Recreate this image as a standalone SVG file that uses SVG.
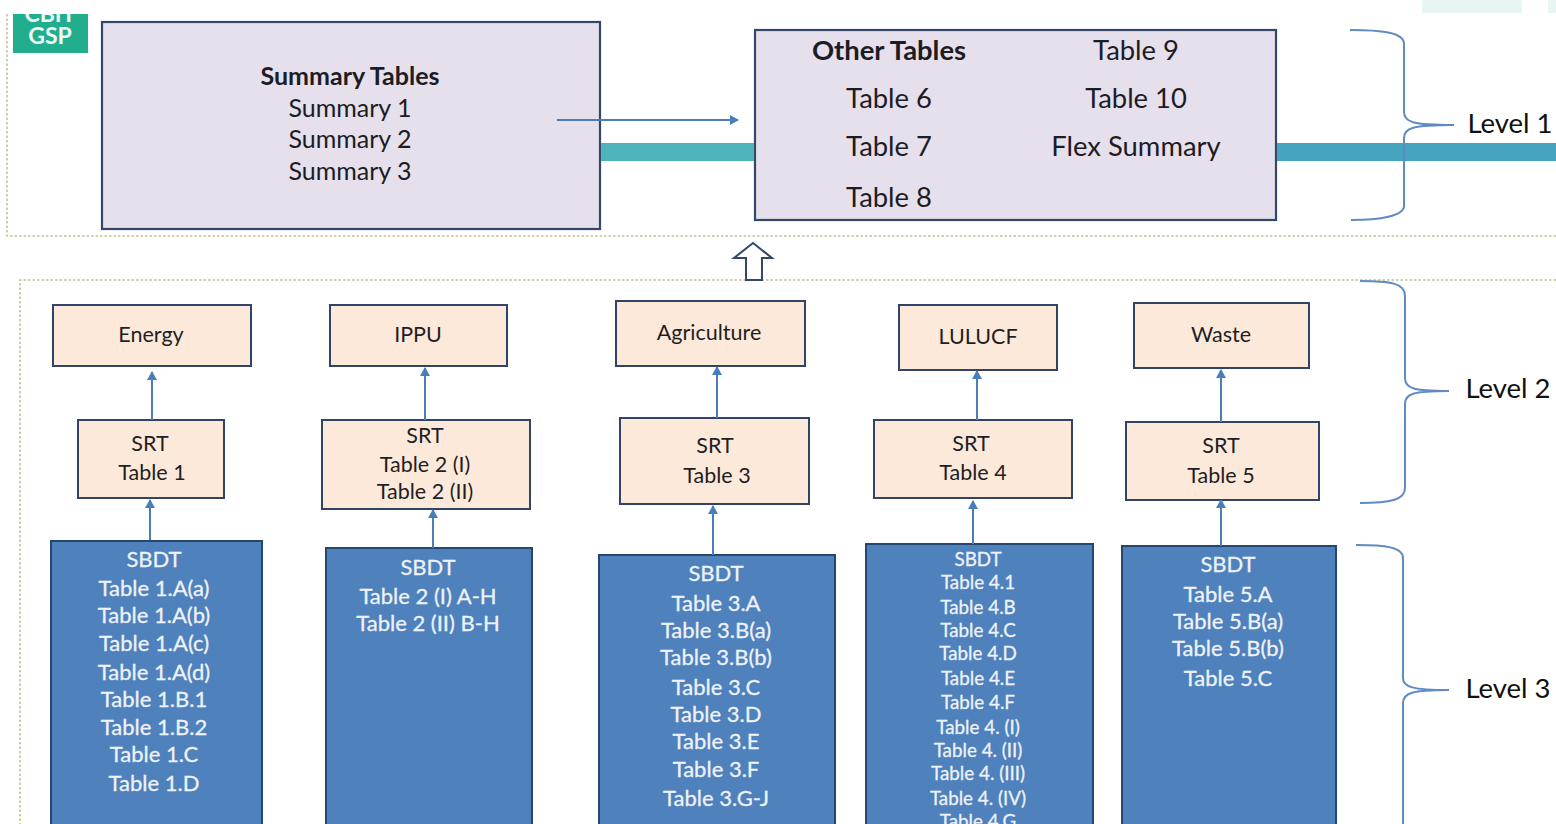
<svg xmlns="http://www.w3.org/2000/svg" width="1556" height="824" viewBox="0 0 1556 824">
<style>
text{font-family:"Lato","Open Sans","Liberation Sans",sans-serif;text-anchor:middle}
.p{fill:#e6e0ec;stroke:#33476a;stroke-width:2.2}
.o{fill:#fde9d9;stroke:#2f4468;stroke-width:2}
.b{fill:#4f81bd;stroke:#24466f;stroke-width:2}
.k{fill:#1c1c24;font-size:25px}
.m{fill:#1c1c24;font-size:27.4px}
.s{fill:#1e1e24;font-size:21.5px}
.w{fill:#eef2f8;font-size:22px;stroke:#eef2f8;stroke-width:.3}
.x{fill:#eef2f8;font-size:18.8px;stroke:#eef2f8;stroke-width:.3}
.l{fill:#111;font-size:27.5px}
.a{stroke:#4a7ebb;stroke-width:2;fill:none;marker-end:url(#h)}
.br{stroke:#5f8ac2;stroke-width:2;fill:none}
.d{stroke:#c3c38f;stroke-width:1.6;fill:none;stroke-dasharray:2.5 2}
</style>
<defs>
<marker id="h" markerUnits="userSpaceOnUse" markerWidth="9" markerHeight="10" refX="8" refY="5" orient="auto"><path d="M0 0L9 5L0 10Z" fill="#4a7ebb"/></marker>
<clipPath id="c"><rect x="13" y="14" width="75" height="40"/></clipPath>
</defs>
<rect width="1556" height="824" fill="#fff"/>
<g id="header-marks"><rect x="1422" y="0" width="100" height="13" fill="#e8f5f3"/><rect x="1548" y="0" width="8" height="13" fill="#e8f5f3"/></g>
<g id="frames"><path class="d" d="M7 14V236H1556"/><path class="d" d="M1556 280H20V824"/></g>
<g id="logo"><rect x="13" y="14" width="75" height="39" fill="#20ae8e"/><g clip-path="url(#c)"><text x="50" y="22" font-size="23" font-weight="700" fill="#eef8f5">CBIT</text><text x="50" y="44" font-size="23" font-weight="700" fill="#eef8f5">GSP</text></g></g>
<g id="summary-tables"><rect class="p" x="102" y="22" width="498" height="207"/>
<text class="k" x="350" y="85" font-weight="700">Summary Tables</text><text class="k" x="350" y="117">Summary 1</text><text class="k" x="350" y="148">Summary 2</text><text class="k" x="350" y="180">Summary 3</text></g>
<g id="other-tables"><rect class="p" x="755" y="30" width="521" height="190"/>
<text class="m" x="889" y="60" font-weight="700">Other Tables</text><text class="m" x="889" y="108">Table 6</text><text class="m" x="889" y="156">Table 7</text><text class="m" x="889" y="207">Table 8</text><text class="m" x="1136" y="60">Table 9</text><text class="m" x="1136" y="108">Table 10</text><text class="m" x="1136" y="156">Flex Summary</text></g>
<g id="energy"><rect class="o" x="53" y="305" width="198" height="61"/><text class="s" x="151" y="342">Energy</text></g>
<g id="ippu"><rect class="o" x="330" y="305" width="177" height="61"/><text class="s" x="418" y="342">IPPU</text></g>
<g id="agriculture"><rect class="o" x="616" y="301" width="189" height="65"/><text class="s" x="709" y="340">Agriculture</text></g>
<g id="lulucf"><rect class="o" x="899" y="305" width="158" height="65"/><text class="s" x="978" y="344">LULUCF</text></g>
<g id="waste"><rect class="o" x="1134" y="303" width="175" height="65"/><text class="s" x="1221" y="342">Waste</text></g>
<g id="srt1"><rect class="o" x="78" y="420" width="146" height="78"/><text class="s" x="150" y="451">SRT</text><text class="s" x="152" y="480">Table 1</text></g>
<g id="srt2"><rect class="o" x="322" y="420" width="208" height="89"/><text class="s" x="425" y="443">SRT</text><text class="s" x="425" y="472">Table 2 (I)</text><text class="s" x="425" y="499">Table 2 (II)</text></g>
<g id="srt3"><rect class="o" x="620" y="418" width="189" height="86"/><text class="s" x="715" y="453">SRT</text><text class="s" x="717" y="483">Table 3</text></g>
<g id="srt4"><rect class="o" x="874" y="420" width="198" height="78"/><text class="s" x="971" y="451">SRT</text><text class="s" x="973" y="480">Table 4</text></g>
<g id="srt5"><rect class="o" x="1126" y="422" width="193" height="78"/><text class="s" x="1221" y="453">SRT</text><text class="s" x="1221" y="483">Table 5</text></g>
<g id="sbdt1"><rect class="b" x="51" y="541" width="211" height="290"/>
<text class="w" x="154" y="567">SBDT</text><text class="w" x="154" y="596">Table 1.A(a)</text><text class="w" x="154" y="623">Table 1.A(b)</text><text class="w" x="154" y="651">Table 1.A(c)</text><text class="w" x="154" y="680">Table 1.A(d)</text><text class="w" x="154" y="707">Table 1.B.1</text><text class="w" x="154" y="735">Table 1.B.2</text><text class="w" x="154" y="762">Table 1.C</text><text class="w" x="154" y="791">Table 1.D</text></g>
<g id="sbdt2"><rect class="b" x="326" y="548" width="206" height="283"/>
<text class="w" x="428" y="575">SBDT</text><text class="w" x="428" y="604">Table 2 (I) A-H</text><text class="w" x="428" y="631">Table 2 (II) B-H</text></g>
<g id="sbdt3"><rect class="b" x="599" y="555" width="236" height="276"/>
<text class="w" x="716" y="581">SBDT</text><text class="w" x="716" y="611">Table 3.A</text><text class="w" x="716" y="638">Table 3.B(a)</text><text class="w" x="716" y="665">Table 3.B(b)</text><text class="w" x="716" y="695">Table 3.C</text><text class="w" x="716" y="722">Table 3.D</text><text class="w" x="716" y="749">Table 3.E</text><text class="w" x="716" y="777">Table 3.F</text><text class="w" x="716" y="806">Table 3.G-J</text></g>
<g id="sbdt4"><rect class="b" x="866" y="544" width="227" height="287"/>
<text class="x" x="978" y="566">SBDT</text><text class="x" x="978" y="589">Table 4.1</text><text class="x" x="978" y="614">Table 4.B</text><text class="x" x="978" y="637">Table 4.C</text><text class="x" x="978" y="660">Table 4.D</text><text class="x" x="978" y="685">Table 4.E</text><text class="x" x="978" y="709">Table 4.F</text><text class="x" x="978" y="734">Table 4. (I)</text><text class="x" x="978" y="757">Table 4. (II)</text><text class="x" x="978" y="780">Table 4. (III)</text><text class="x" x="978" y="805">Table 4. (IV)</text><text class="x" x="978" y="828">Table 4.G</text></g>
<g id="sbdt5"><rect class="b" x="1122" y="546" width="214" height="285"/>
<text class="w" x="1228" y="572">SBDT</text><text class="w" x="1228" y="602">Table 5.A</text><text class="w" x="1228" y="629">Table 5.B(a)</text><text class="w" x="1228" y="656">Table 5.B(b)</text><text class="w" x="1228" y="686">Table 5.C</text></g>
<g id="connectors">
<rect x="601" y="143" width="153" height="18" fill="#4fb3bc"/>
<rect x="1277" y="143" width="279" height="18" fill="#45a5c0"/>
<path class="a" d="M557 120H738"/>
<path d="M746 280H762V258H772L753 243L734 258H746Z" fill="#fff" stroke="#33476a" stroke-width="2"/>
<path class="a" d="M152 420V372"/><path class="a" d="M425 420V368"/><path class="a" d="M717 418V367"/><path class="a" d="M977 420V371"/><path class="a" d="M1221 422V370"/>
<path class="a" d="M150 540V500"/><path class="a" d="M433 548V510"/><path class="a" d="M713 555V506"/><path class="a" d="M973 544V501"/><path class="a" d="M1221 546V500"/>
</g>
<g id="level-1"><path class="br" d="M1350 30C1380 30 1404 32 1404 44V112C1404 122 1412 125 1454 125C1412 125 1404 128 1404 138V206C1404 216 1380 220 1351 220"/><text class="l" x="1510" y="133">Level 1</text></g>
<g id="level-2"><path class="br" d="M1360 281C1390 281 1405 283 1405 296V378C1405 388 1412 391 1449 391C1412 391 1405 394 1405 404V488C1405 500 1390 503 1360 503"/><text class="l" x="1508" y="398">Level 2</text></g>
<g id="level-3"><path class="br" d="M1356 545C1385 545 1403 547 1403 558V678C1403 687 1412 690 1449 690C1412 690 1403 693 1403 703V830"/><text class="l" x="1508" y="698">Level 3</text></g>
</svg>
